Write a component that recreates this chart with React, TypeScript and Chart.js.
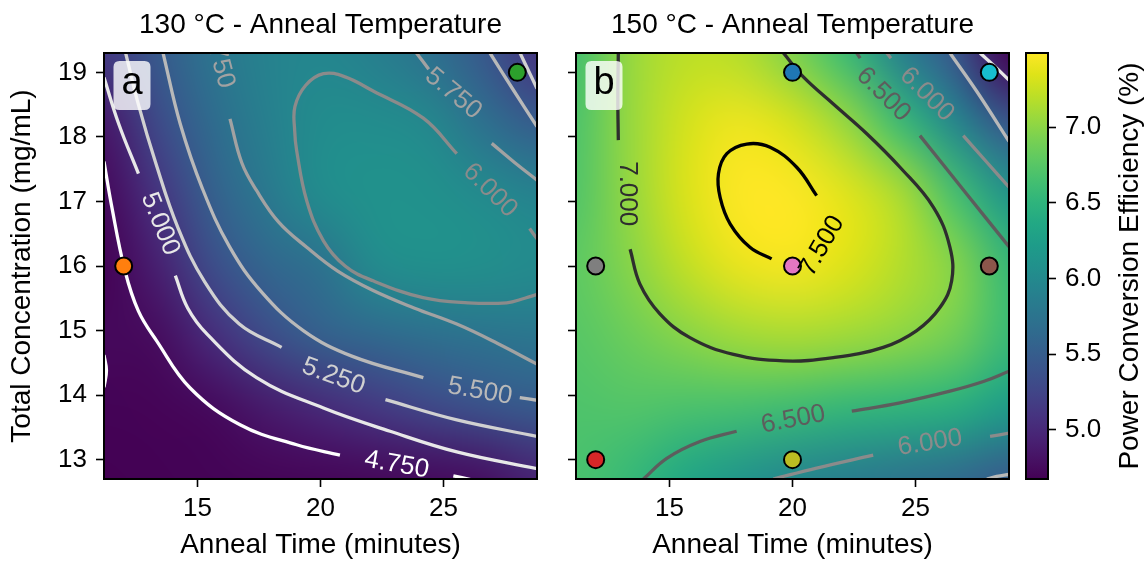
import React, { useEffect, useRef } from "react";
import { Chart, registerables } from "chart.js";

Chart.register(...registerables);

const FONT = "'Liberation Sans', Arial, Helvetica, sans-serif";

// ---------- axes ----------
const X_MIN = 11.2;
const X_MAX = 28.8;
const Y_MIN = 12.7;
const Y_MAX = 19.3;
const V_MIN = 4.675;
const V_MAX = 7.49;
const X_TICKS = [15, 20, 25];
const Y_TICKS = [13, 14, 15, 16, 17, 18, 19];
const CBAR_TICKS = [5.0, 5.5, 6.0, 6.5, 7.0];

// ---------- heat-map grids (PCE %) ----------
const GRID_TIME = [11.2, 13.4, 15.6, 17.8, 20.0, 22.2, 24.4, 26.6, 28.8];
const GRID_CONC = [19.3, 18.2, 17.1, 16.0, 14.9, 13.8, 12.7];

const PCE_130 = [
  [5.15, 5.47, 5.75, 5.92, 5.96, 5.88, 5.72, 5.45, 5.10],
  [4.85, 5.30, 5.65, 5.88, 6.03, 6.04, 5.99, 5.72, 5.50],
  [4.74, 5.10, 5.53, 5.80, 6.03, 6.09, 6.08, 6.02, 5.93],
  [4.68, 4.92, 5.33, 5.60, 5.72, 6.02, 6.07, 6.06, 6.02],
  [4.73, 4.76, 5.03, 5.31, 5.53, 5.62, 5.69, 5.74, 5.78],
  [4.69, 4.70, 4.74, 4.87, 5.00, 5.13, 5.27, 5.38, 5.47],
  [4.675, 4.68, 4.69, 4.70, 4.71, 4.72, 4.74, 4.78, 4.94],
];

const PCE_150 = [
  [6.65, 7.05, 7.20, 7.18, 6.95, 6.58, 5.89, 5.42, 4.68],
  [6.70, 7.05, 7.30, 7.42, 7.32, 7.05, 6.59, 5.98, 5.43],
  [6.72, 7.04, 7.33, 7.52, 7.53, 7.37, 7.14, 6.66, 6.13],
  [6.78, 6.98, 7.22, 7.40, 7.45, 7.35, 7.18, 6.98, 6.56],
  [6.75, 6.85, 6.98, 7.08, 7.12, 7.08, 7.01, 6.88, 6.58],
  [6.70, 6.72, 6.68, 6.65, 6.60, 6.53, 6.49, 6.43, 6.22],
  [6.68, 6.55, 6.34, 6.13, 5.96, 5.85, 5.74, 5.64, 5.46],
];

// ---------- contour lines, 130 °C  [time, conc] ----------
type XY = [number, number];
const A475_1: XY[] = [[11.2, 17.62], [11.5, 16.95], [12.05, 15.93], [12.6, 15.3], [13.34, 14.84], [14.7, 14.11], [16.73, 13.54], [19.03, 13.23], [20.79, 13.07]];
const A475_2: XY[] = [[25.4, 12.75], [26.1, 12.69]];
const A475_3: XY[] = [[11.2, 14.62], [11.3, 14.38], [11.2, 14.12]];
const A500_1: XY[] = [[11.2, 18.92], [11.8, 18.2], [12.6, 17.43]];
const A500_2: XY[] = [[14.1, 15.85], [14.6, 15.35], [15.4, 14.94], [17.4, 14.27], [20.12, 13.8], [22.83, 13.44], [25.54, 13.12], [28.8, 12.86]];
const A525_1: XY[] = [[12.08, 19.3], [12.6, 18.5], [13.3, 17.6], [14.2, 16.6], [15.3, 15.75], [16.7, 15.1], [18.42, 14.74]];
const A525_2: XY[] = [[22.64, 13.93], [25.5, 13.62], [28.8, 13.36]];
const A525_3: XY[] = [[28.11, 19.3], [28.8, 18.75]];
const A550_1: XY[] = [[13.6, 19.3], [14.3, 18.2], [15.2, 17.2], [16.3, 16.3], [17.6, 15.6], [19.3, 15.0], [21.3, 14.6], [24.18, 14.27]];
const A550_2: XY[] = [[28.1, 13.96], [28.8, 13.92]];
const A550_3: XY[] = [[26.89, 19.3], [27.8, 18.75], [28.8, 18.16]];
const A575_1: XY[] = [[16.32, 18.28], [16.8, 17.6], [17.4, 17.17], [18.3, 16.68], [19.44, 16.29], [20.7, 15.92], [22.14, 15.62], [23.8, 15.35], [25.54, 15.1], [27.2, 14.8], [28.8, 14.48]];
const A575_2: XY[] = [[23.9, 19.3], [24.4, 19.05]];
const A575_3: XY[] = [[26.96, 17.9], [27.9, 17.6], [28.8, 17.33]];
const A600_1: XY[] = [[28.5, 16.58], [28.8, 16.42]];
const A600_2: XY[] = [[25.54, 17.74], [24.18, 18.29], [22.14, 18.71], [21.0, 18.93], [20.12, 18.98], [19.4, 18.8], [18.96, 18.47], [18.95, 18.1], [19.03, 17.79], [19.44, 17.01], [20.12, 16.39], [21.0, 16.0], [22.14, 15.77], [24.17, 15.51], [26.0, 15.43], [27.57, 15.43], [28.3, 15.5], [28.8, 15.56]];

const SEGS_130: { level: number; pts: XY[] }[] = [
  { level: 4.75, pts: A475_1 }, { level: 4.75, pts: A475_2 }, { level: 4.75, pts: A475_3 },
  { level: 5.0, pts: A500_1 }, { level: 5.0, pts: A500_2 },
  { level: 5.25, pts: A525_1 }, { level: 5.25, pts: A525_2 }, { level: 5.25, pts: A525_3 },
  { level: 5.5, pts: A550_1 }, { level: 5.5, pts: A550_2 }, { level: 5.5, pts: A550_3 },
  { level: 5.75, pts: A575_1 }, { level: 5.75, pts: A575_2 }, { level: 5.75, pts: A575_3 },
  { level: 6.0, pts: A600_1 }, { level: 6.0, pts: A600_2 },
];

const LABELS_130 = [
  { text: "5.750", level: 5.75, x: 15.84, y: 19.25, rot: 75 },
  { text: "5.000", level: 5.0, x: 13.48, y: 16.65, rot: 68 },
  { text: "5.250", level: 5.25, x: 20.53, y: 14.29, rot: 20 },
  { text: "5.500", level: 5.5, x: 26.48, y: 14.06, rot: 10 },
  { text: "4.750", level: 4.75, x: 23.1, y: 12.92, rot: 10 },
  { text: "5.750", level: 5.75, x: 25.4, y: 18.67, rot: 40 },
  { text: "6.000", level: 6.0, x: 26.89, y: 17.17, rot: 45 },
];

// ---------- contour lines, 150 °C ----------
const B750: XY[] = [[19.15, 16.11], [18.27, 16.29], [17.47, 16.65], [17.06, 17.06], [16.99, 17.43], [17.33, 17.74], [18.14, 17.89], [19.09, 17.84], [20.17, 17.53], [20.98, 17.09]];
const B700_1: XY[] = [[12.92, 19.3], [12.9, 18.6], [12.92, 17.95]];
const B700_2: XY[] = [[13.4, 16.26], [13.8, 15.72], [14.61, 15.26], [15.83, 14.89], [17.6, 14.63], [19.63, 14.53], [21.66, 14.58], [23.69, 14.74], [25.05, 15.0], [26.0, 15.36], [26.47, 15.77], [26.4, 16.29], [25.73, 16.91], [24.37, 17.53], [23.02, 18.05], [21.66, 18.51], [20.44, 18.93], [19.63, 19.3]];
const B650_1: XY[] = [[13.94, 12.7], [14.89, 13.02], [16.24, 13.28], [17.73, 13.44]];
const B650_2: XY[] = [[22.41, 13.75], [24.37, 13.88], [26.4, 14.06], [27.76, 14.21], [28.8, 14.37]];
const B650_3: XY[] = [[22.61, 19.3], [22.75, 19.22]];
const B650_4: XY[] = [[25.18, 18.02], [26.9, 17.2], [28.8, 16.3]];
const B600_1: XY[] = [[19.22, 12.7], [20.98, 12.87], [23.28, 13.07]];
const B600_2: XY[] = [[28.03, 13.36], [28.8, 13.41]];
const B600_3: XY[] = [[23.83, 19.3], [24.0, 19.22]];
const B600_4: XY[] = [[26.94, 18.02], [27.8, 17.65], [28.8, 17.22]];
const B550_1: XY[] = [[27.9, 12.7], [28.3, 12.74], [28.8, 12.77]];
const B550_2: XY[] = [[26.4, 19.3], [27.5, 18.7], [28.8, 17.93]];
const B500_1: XY[] = [[27.62, 19.3], [28.2, 19.1], [28.8, 18.88]];

const SEGS_150: { level: number; pts: XY[] }[] = [
  { level: 7.5, pts: B750 },
  { level: 7.0, pts: B700_1 }, { level: 7.0, pts: B700_2 },
  { level: 6.5, pts: B650_1 }, { level: 6.5, pts: B650_2 }, { level: 6.5, pts: B650_3 }, { level: 6.5, pts: B650_4 },
  { level: 6.0, pts: B600_1 }, { level: 6.0, pts: B600_2 }, { level: 6.0, pts: B600_3 }, { level: 6.0, pts: B600_4 },
  { level: 5.5, pts: B550_1 }, { level: 5.5, pts: B550_2 },
  { level: 5.0, pts: B500_1 },
];

const LABELS_150 = [
  { text: "7.000", level: 7.0, x: 13.26, y: 17.12, rot: 90 },
  { text: "7.500", level: 7.5, x: 21.2, y: 16.31, rot: -60 },
  { text: "6.500", level: 6.5, x: 23.69, y: 18.66, rot: 45 },
  { text: "6.000", level: 6.0, x: 25.46, y: 18.66, rot: 45 },
  { text: "6.500", level: 6.5, x: 20.03, y: 13.62, rot: -11 },
  { text: "6.000", level: 6.0, x: 25.59, y: 13.26, rot: -9 },
];

// ---------- experimental points ----------
const POINTS_130 = [
  { x: 12, y: 16, color: "#ff7f0e" },
  { x: 28, y: 19, color: "#2ca02c" },
];
const POINTS_150 = [
  { x: 20, y: 19, color: "#1f77b4" },
  { x: 28, y: 19, color: "#17becf" },
  { x: 12, y: 16, color: "#7f7f7f" },
  { x: 20, y: 16, color: "#e377c2" },
  { x: 28, y: 16, color: "#8c564b" },
  { x: 12, y: 13, color: "#d62728" },
  { x: 20, y: 13, color: "#bcbd22" },
];

// ---------- colour helpers ----------
const VIRIDIS = [
  "#440154", "#471365", "#482475", "#463480", "#414487", "#3b528b", "#355f8d",
  "#2f6c8e", "#2a788e", "#25848e", "#21918c", "#1e9c89", "#22a884", "#2fb47c",
  "#44bf70", "#5ec962", "#7ad151", "#9bd93c", "#bddf26", "#dfe318", "#fde725",
];
const hexRgb = (h: string) => [parseInt(h.slice(1, 3), 16), parseInt(h.slice(3, 5), 16), parseInt(h.slice(5, 7), 16)];
const VIR_RGB = VIRIDIS.map(hexRgb);
function viridis(t: number): number[] {
  const tt = Math.max(0, Math.min(1, t)) * (VIR_RGB.length - 1);
  const i = Math.min(VIR_RGB.length - 2, Math.floor(tt));
  const f = tt - i;
  const a = VIR_RGB[i], b = VIR_RGB[i + 1];
  return [0, 1, 2].map((k) => Math.round(a[k] + (b[k] - a[k]) * f));
}
function levelGray(lv: number) {
  const g = Math.max(0, Math.min(255, Math.round(255 * (1 - (lv - 4.75) / 2.75))));
  return `rgb(${g},${g},${g})`;
}

function heatImage(grid: number[][]) {
  const rows = grid.length, cols = grid[0].length;
  const c = document.createElement("canvas");
  c.width = cols;
  c.height = rows;
  const cx = c.getContext("2d")!;
  const img = cx.createImageData(cols, rows);
  for (let r = 0; r < rows; r++) {
    for (let q = 0; q < cols; q++) {
      const [R, G, B] = viridis((grid[r][q] - V_MIN) / (V_MAX - V_MIN));
      const o = (r * cols + q) * 4;
      img.data[o] = R; img.data[o + 1] = G; img.data[o + 2] = B; img.data[o + 3] = 255;
    }
  }
  cx.putImageData(img, 0, 0);
  return c;
}

function roundRect(ctx: CanvasRenderingContext2D, x: number, y: number, w: number, h: number, r: number) {
  ctx.beginPath();
  ctx.moveTo(x + r, y);
  ctx.lineTo(x + w - r, y);
  ctx.quadraticCurveTo(x + w, y, x + w, y + r);
  ctx.lineTo(x + w, y + h - r);
  ctx.quadraticCurveTo(x + w, y + h, x + w - r, y + h);
  ctx.lineTo(x + r, y + h);
  ctx.quadraticCurveTo(x, y + h, x, y + h - r);
  ctx.lineTo(x, y + r);
  ctx.quadraticCurveTo(x, y, x + r, y);
  ctx.closePath();
}

interface PanelSpec {
  grid: number[][];
  segs: { level: number; pts: XY[] }[];
  labels: { text: string; level: number; x: number; y: number; rot: number }[];
  points: { x: number; y: number; color: string }[];
  title: string;
  letter: string;
  yLabels: boolean;
  left: number;
  right: number;
}

function panelConfig(p: PanelSpec): any {
  const yWidth = p.yLabels ? 104 : 20;
  const heat = {
    id: "heat",
    beforeDatasetsDraw(chart: any) {
      const { ctx, chartArea: a, scales } = chart;
      const img = heatImage(p.grid);
      const hx = (GRID_TIME[1] - GRID_TIME[0]) / 2;
      const hy = (GRID_CONC[0] - GRID_CONC[1]) / 2;
      const x0 = scales.x.getPixelForValue(GRID_TIME[0] - hx);
      const x1 = scales.x.getPixelForValue(GRID_TIME[GRID_TIME.length - 1] + hx);
      const y0 = scales.y.getPixelForValue(GRID_CONC[0] + hy);
      const y1 = scales.y.getPixelForValue(GRID_CONC[GRID_CONC.length - 1] - hy);
      ctx.save();
      ctx.beginPath();
      ctx.rect(a.left, a.top, a.right - a.left, a.bottom - a.top);
      ctx.clip();
      ctx.imageSmoothingEnabled = true;
      (ctx as any).imageSmoothingQuality = "high";
      ctx.drawImage(img, x0, y0, x1 - x0, y1 - y0);
      ctx.restore();
    },
  };
  const deco = {
    id: "deco",
    afterDatasetsDraw(chart: any) {
      const { ctx, chartArea: a, scales } = chart;
      ctx.save();
      ctx.beginPath();
      ctx.rect(a.left, a.top, a.right - a.left, a.bottom - a.top);
      ctx.clip();
      for (const l of p.labels) {
        ctx.save();
        ctx.translate(scales.x.getPixelForValue(l.x), scales.y.getPixelForValue(l.y));
        ctx.rotate((l.rot * Math.PI) / 180);
        ctx.fillStyle = levelGray(l.level);
        ctx.font = `26px ${FONT}`;
        ctx.textAlign = "center";
        ctx.textBaseline = "middle";
        ctx.fillText(l.text, 0, 0);
        ctx.restore();
      }
      // panel letter box
      ctx.fillStyle = "rgba(255,255,255,0.8)";
      roundRect(ctx, a.left + 9.5, a.top + 8, 37, 49, 6);
      ctx.fill();
      ctx.fillStyle = "#000";
      ctx.font = `38px ${FONT}`;
      ctx.textAlign = "center";
      ctx.textBaseline = "middle";
      ctx.fillText(p.letter, a.left + 28, a.top + 31);
      ctx.restore();
      // frame
      ctx.save();
      ctx.strokeStyle = "#000";
      ctx.lineWidth = 2;
      ctx.strokeRect(a.left, a.top, a.right - a.left, a.bottom - a.top);
      // title
      ctx.fillStyle = "#000";
      ctx.font = `28px ${FONT}`;
      ctx.textAlign = "center";
      ctx.textBaseline = "middle";
      ctx.fillText(p.title, (a.left + a.right) / 2, 25);
      ctx.restore();
    },
  };

  const datasets: any[] = [
    {
      data: p.points.map((q) => ({ x: q.x, y: q.y })),
      backgroundColor: p.points.map((q) => q.color),
      borderColor: "#000",
      borderWidth: 2,
      pointRadius: 8.5,
      pointHoverRadius: 8.5,
      showLine: false,
      clip: false,
    },
    ...p.segs.map((s) => ({
      data: s.pts.map(([x, y]) => ({ x, y })),
      showLine: true,
      pointRadius: 0,
      borderColor: levelGray(s.level),
      borderWidth: 3.3,
      borderCapStyle: "butt",
      tension: 0.4,
      fill: false,
    })),
  ];

  return {
    type: "scatter",
    data: { datasets },
    options: {
      animation: false,
      responsive: false,
      maintainAspectRatio: false,
      events: [],
      layout: { padding: { left: p.left - yWidth, right: 1148 - p.right, top: 53, bottom: 0 } },
      plugins: { legend: { display: false }, tooltip: { enabled: false }, title: { display: false } },
      scales: {
        x: {
          type: "linear",
          min: X_MIN,
          max: X_MAX,
          afterBuildTicks: (s: any) => { s.ticks = X_TICKS.map((v) => ({ value: v })); },
          afterFit: (s: any) => { s.height = 83; },
          grid: { display: true, drawOnChartArea: false, drawTicks: true, tickLength: 8, tickColor: "#000", tickWidth: 1.6 },
          border: { display: false },
          ticks: { color: "#000", font: { family: FONT, size: 26 }, padding: 6, maxRotation: 0, autoSkip: false },
          title: { display: true, text: "Anneal Time (minutes)", color: "#000", font: { family: FONT, size: 28 }, padding: { top: 0, bottom: 0 } },
        },
        y: {
          type: "linear",
          min: Y_MIN,
          max: Y_MAX,
          afterBuildTicks: (s: any) => { s.ticks = Y_TICKS.map((v) => ({ value: v })); },
          afterFit: (s: any) => { s.width = yWidth; },
          grid: { display: true, drawOnChartArea: false, drawTicks: true, tickLength: 8, tickColor: "#000", tickWidth: 1.6 },
          border: { display: false },
          ticks: {
            color: "#000",
            font: { family: FONT, size: 26 },
            padding: 9,
            autoSkip: false,
            callback: (v: any) => (p.yLabels ? String(v) : ""),
          },
          title: {
            display: p.yLabels,
            text: "Total Concentration (mg/mL)",
            color: "#000",
            font: { family: FONT, size: 28 },
            padding: { top: 5, bottom: 0 },
          },
        },
      },
    },
    plugins: [heat, deco],
  };
}

function colorbarConfig(): any {
  const bar = {
    id: "bar",
    beforeDatasetsDraw(chart: any) {
      const { ctx, chartArea: a, scales } = chart;
      const yb = scales.y.getPixelForValue(V_MIN);
      const yt = scales.y.getPixelForValue(V_MAX);
      const g = ctx.createLinearGradient(0, yb, 0, yt);
      VIRIDIS.forEach((c, i) => g.addColorStop(i / (VIRIDIS.length - 1), c));
      ctx.save();
      ctx.fillStyle = g;
      ctx.fillRect(a.left, a.top, a.right - a.left, a.bottom - a.top);
      ctx.restore();
    },
    afterDraw(chart: any) {
      const { ctx, chartArea: a } = chart;
      ctx.save();
      ctx.strokeStyle = "#000";
      ctx.lineWidth = 2;
      ctx.strokeRect(a.left, a.top, a.right - a.left, a.bottom - a.top);
      ctx.translate(1130, (a.top + a.bottom) / 2);
      ctx.rotate(-Math.PI / 2);
      ctx.fillStyle = "#000";
      ctx.font = `28px ${FONT}`;
      ctx.textAlign = "center";
      ctx.textBaseline = "middle";
      ctx.fillText("Power Conversion Efficiency (%)", 0, 0);
      ctx.restore();
    },
  };
  return {
    type: "scatter",
    data: { datasets: [] },
    options: {
      animation: false,
      responsive: false,
      maintainAspectRatio: false,
      events: [],
      layout: { padding: { left: 1026, right: 0, top: 53, bottom: 83 } },
      plugins: { legend: { display: false }, tooltip: { enabled: false } },
      scales: {
        x: { display: false, min: 0, max: 1 },
        y: {
          position: "right",
          min: V_MIN,
          max: V_MAX,
          afterBuildTicks: (s: any) => { s.ticks = CBAR_TICKS.map((v) => ({ value: v })); },
          afterFit: (s: any) => { s.width = 100; },
          grid: { display: true, drawOnChartArea: false, drawTicks: true, tickLength: 8, tickColor: "#000", tickWidth: 1.6 },
          border: { display: false },
          ticks: { color: "#000", font: { family: FONT, size: 26 }, padding: 9, callback: (v: any) => Number(v).toFixed(1) },
        },
      },
    },
    plugins: [bar],
  };
}

export default function App() {
  const refA = useRef<HTMLCanvasElement>(null);
  const refB = useRef<HTMLCanvasElement>(null);
  const refC = useRef<HTMLCanvasElement>(null);

  useEffect(() => {
    const charts = [
      new Chart(refA.current!, panelConfig({
        grid: PCE_130, segs: SEGS_130, labels: LABELS_130, points: POINTS_130,
        title: "130 °C - Anneal Temperature", letter: "a", yLabels: true, left: 104, right: 537,
      })),
      new Chart(refB.current!, panelConfig({
        grid: PCE_150, segs: SEGS_150, labels: LABELS_150, points: POINTS_150,
        title: "150 °C - Anneal Temperature", letter: "b", yLabels: false, left: 576, right: 1009,
      })),
      new Chart(refC.current!, colorbarConfig()),
    ];
    return () => charts.forEach((c) => c.destroy());
  }, []);

  const st: React.CSSProperties = { position: "absolute", left: 0, top: 0, width: 1148, height: 562 };
  return (
    <div style={{ position: "absolute", left: 0, top: 0, width: 1148, height: 562, background: "#fff", overflow: "hidden" }}>
      <canvas ref={refA} width={1148} height={562} style={st} />
      <canvas ref={refB} width={1148} height={562} style={st} />
      <canvas ref={refC} width={1148} height={562} style={st} />
    </div>
  );
}
